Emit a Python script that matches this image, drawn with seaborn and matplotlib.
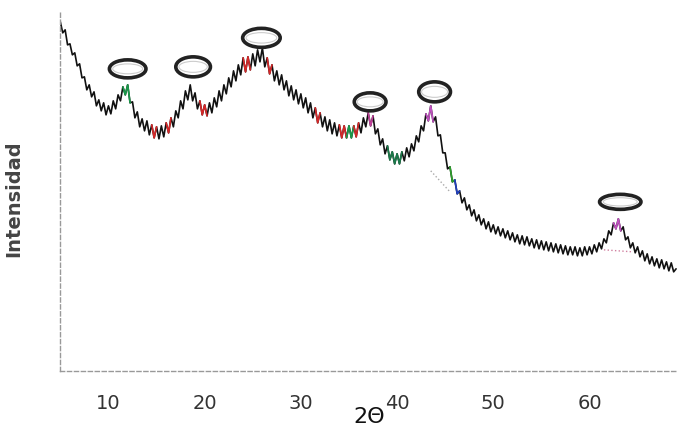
import numpy as np
import pandas as pd
import matplotlib
matplotlib.use("Agg")
import matplotlib.pyplot as plt
from matplotlib.patches import Ellipse
import seaborn as sns

two_theta = np.arange(5.0, 69.01, 0.25)
intensidad = [
    349, 338, 341, 326,  327, 316, 318, 305,  307, 293, 294, 281,  286, 274, 279, 265,
    271, 260, 268, 256,  265, 257, 270, 262,  276, 270, 284, 276,  286, 268, 269, 253,
    259, 244, 252, 240,  250, 236, 246, 233,  244, 232, 245, 234,  248, 238, 253, 244,
    260, 253, 270, 262,  280, 271, 286, 270,  278, 262, 270, 256,  266, 255, 268, 258,
    273, 264, 280, 270,  286, 277, 293, 284,  300, 290, 306, 296,  313, 299, 314, 301,
    317, 305, 321, 309,  323, 304, 313, 297,  306, 290, 300, 286,  296, 281, 290, 275,
    285, 271, 281, 267,  277, 263, 273, 258,  268, 253, 263, 248,  258, 244, 254, 240,
    251, 237, 248, 235,  246, 233, 245, 233,  245, 233, 245, 234,  248, 238, 253, 244,
    258, 245, 255, 237,  242, 226, 232, 217,  225, 211, 219, 207,  217, 207, 219, 210,
    223, 214, 227, 220,  235, 229, 245, 240,  257, 250, 265, 249,  254, 235, 236, 218,
    218, 202, 204, 189,  191, 177, 180, 168,  173, 161, 166, 155,  161, 150, 156, 146,
    152, 142, 149, 139,  146, 137, 144, 135,  142, 133, 140, 131,  138, 129, 136, 127,
    135, 126, 134, 125,  132, 123, 131, 122,  130, 121, 129, 120,  128, 119, 127, 118,
    126, 117, 125, 116,  124, 116, 124, 115,  123, 115, 124, 116,  124, 117, 126, 119,
    128, 122, 132, 128,  140, 136, 148, 142,  152, 140, 144, 131,  134, 123, 128, 118,
    124, 114, 120, 110,  117, 107, 114, 105,  112, 103, 111, 102,  109, 100, 108, 99,
    102,
]

# tramos marcados en color por el software
tramo_ini = [11.5, 14.5, 16.0, 19.5, 24.0, 26.5, 31.5, 34.0, 34.75, 35.5, 37.0, 39.0, 43.0, 45.5, 46.0, 62.5]
tramo_fin = [12.25, 15.0, 16.5, 20.25, 24.75, 27.0, 32.0, 34.75, 35.5, 36.0, 37.5, 40.5, 43.75, 46.0, 46.5, 63.25]
tramo_color = ["#1a9a4a", "#d62728", "#d62728", "#d62728", "#d62728", "#d62728", "#d62728",
               "#d62728", "#1a9a4a", "#d62728", "#c0409a", "#1a7a4a", "#c050c0", "#2ca02c",
               "#1f3fbf", "#c050c0"]

# linea base punteada
base1_x = [43.5, 45.5]
base1_y = [200, 179]
base2_x = [61.5, 64.5]
base2_y = [121, 119]

# ovalos sobre los picos: centro (2theta, intensidad), ancho, alto
pico_x = [12.0, 18.8, 25.9, 37.2, 43.9, 63.2]
pico_y = [302, 304, 333, 269, 279, 169]
ovalo_w = [3.8, 3.6, 3.9, 3.3, 3.3, 4.3]
ovalo_h = [18, 20, 19, 18, 20, 15]

df = pd.DataFrame({"2theta": two_theta, "I": intensidad})

sns.set_style("white")
plt.rcParams["font.family"] = ["DejaVu Sans"]

fig = plt.figure(figsize=(6.78, 4.39), dpi=100)
ax = fig.add_axes([0.089, 0.153, 0.911, 0.82])

sns.lineplot(data=df, x="2theta", y="I", color="#111111", lw=1.2,
             sort=False, estimator=None, ax=ax)
for a, b, c in zip(tramo_ini, tramo_fin, tramo_color):
    sub = df[(df["2theta"] >= a) & (df["2theta"] <= b)]
    sns.lineplot(data=sub, x="2theta", y="I", color=c, lw=1.2,
                 sort=False, estimator=None, ax=ax)

ax.plot(base1_x, base1_y, ls=":", color="#aaaaaa", lw=1)
ax.plot(base2_x, base2_y, ls=":", color="#d080a0", lw=1)

for x, y, w, h in zip(pico_x, pico_y, ovalo_w, ovalo_h):
    ax.add_patch(Ellipse((x, y), w, h, facecolor="white", edgecolor="#222222",
                         lw=2.6, zorder=5))
    ax.add_patch(Ellipse((x, y), w * 0.82, h * 0.55, facecolor="none",
                         edgecolor="#cccccc", lw=0.8, zorder=6))

ax.set_xlim(5, 69.2)
ax.set_ylim(0, 360)
ax.set_xticks([10, 20, 30, 40, 50, 60])
ax.set_xticks(np.arange(6, 69, 2), minor=True)
ax.set_yticks([])
ax.tick_params(axis="x", which="major", length=4, color="#999999",
               labelsize=14, labelcolor="#333333", pad=12)
ax.tick_params(axis="x", which="minor", length=2, color="#bbbbbb")
for s in ["top", "right"]:
    ax.spines[s].set_visible(False)
for s in ["left", "bottom"]:
    ax.spines[s].set_linestyle((0, (3, 2)))
    ax.spines[s].set_color("#999999")
    ax.spines[s].set_linewidth(1)

ax.set_xlabel("2Θ", fontsize=16, color="#111111", labelpad=-4)
ax.set_ylabel("Intensidad", fontsize=14, fontweight="bold", color="#444444")
ax.yaxis.set_label_coords(-0.06, 0.48)

fig.savefig("out.png", dpi=100)
